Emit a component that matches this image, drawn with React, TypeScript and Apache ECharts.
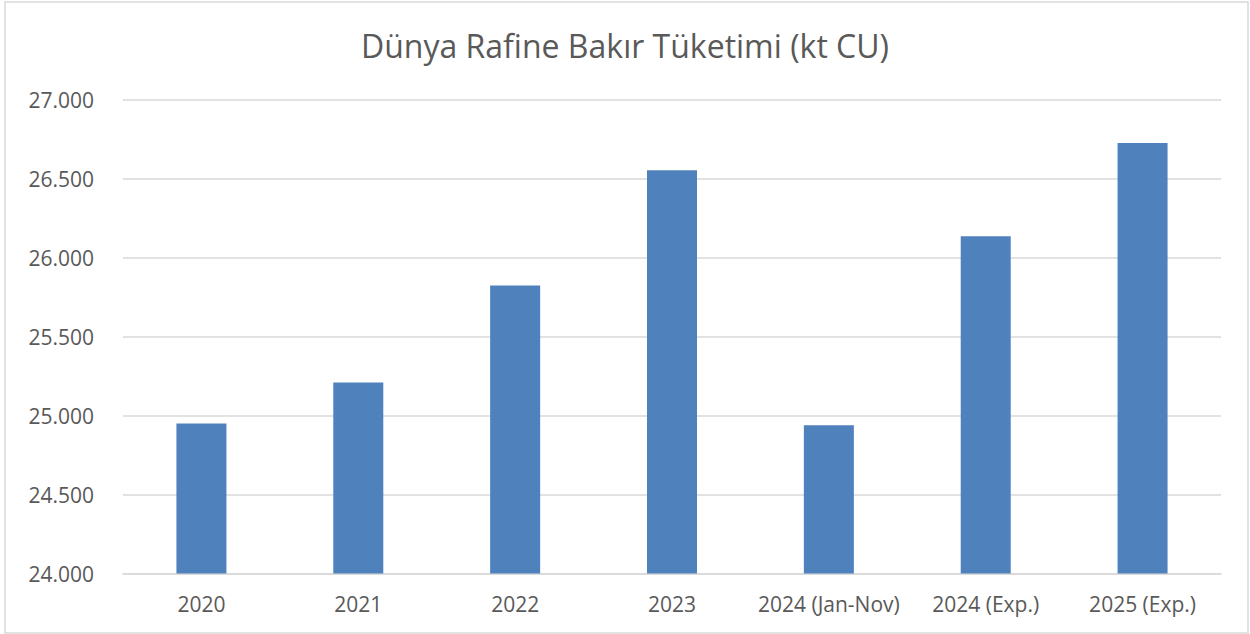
import React, { useEffect, useRef } from "react";
import * as echarts from "echarts";

const categories = ["2020", "2021", "2022", "2023", "2024 (Jan-Nov)", "2024 (Exp.)", "2025 (Exp.)"];
const consumption = [24950, 25210, 25825, 26555, 24940, 26137, 26728];
const yMin = 24000;
const yMax = 27000;
const yStep = 500;

const fmt = (v: number) => String(v).replace(/\B(?=(\d{3})+(?!\d))/g, ".");

export default function App() {
  const ref = useRef<HTMLDivElement>(null);
  useEffect(() => {
    document.body.style.margin = "0";
    const chart = echarts.init(ref.current!, null, { renderer: "svg" });
    chart.setOption({
      animation: false,
      backgroundColor: "#ffffff",
      textStyle: { fontFamily: "Open Sans" },
      title: {
        text: "Dünya Rafine Bakır Tüketimi (kt CU)",
        left: "center",
        top: 24,
        textStyle: { fontFamily: "Open Sans", fontSize: 32, fontWeight: "normal", color: "#595959" },
      },
      graphic: [
        {
          type: "rect",
          shape: { x: 5, y: 2, width: 1243, height: 631 },
          style: { fill: "none", stroke: "#d9d9d9", lineWidth: 1.5 },
          silent: true,
        },
      ],
      grid: { left: 123, right: 29, top: 100, bottom: 60.5 },
      xAxis: {
        type: "category",
        data: categories,
        axisLine: { show: true, lineStyle: { color: "#d9d9d9", width: 1.5 } },
        axisTick: { show: false },
        axisLabel: { color: "#595959", fontSize: 21, fontFamily: "Open Sans", margin: 20, interval: 0 },
      },
      yAxis: {
        type: "value",
        min: yMin,
        max: yMax,
        interval: yStep,
        axisLine: { show: false },
        axisTick: { show: false },
        splitLine: { lineStyle: { color: "#d9d9d9", width: 1.5 } },
        axisLabel: {
          color: "#595959",
          fontSize: 21,
          fontFamily: "Open Sans",
          margin: 29,
          formatter: (v: number) => fmt(v),
        },
      },
      series: [
        {
          type: "bar",
          data: consumption,
          barWidth: 50,
          itemStyle: { color: "#4f81bd" },
        },
      ],
    });
    return () => chart.dispose();
  }, []);
  return <div ref={ref} style={{ width: 1250, height: 634 }} />;
}
